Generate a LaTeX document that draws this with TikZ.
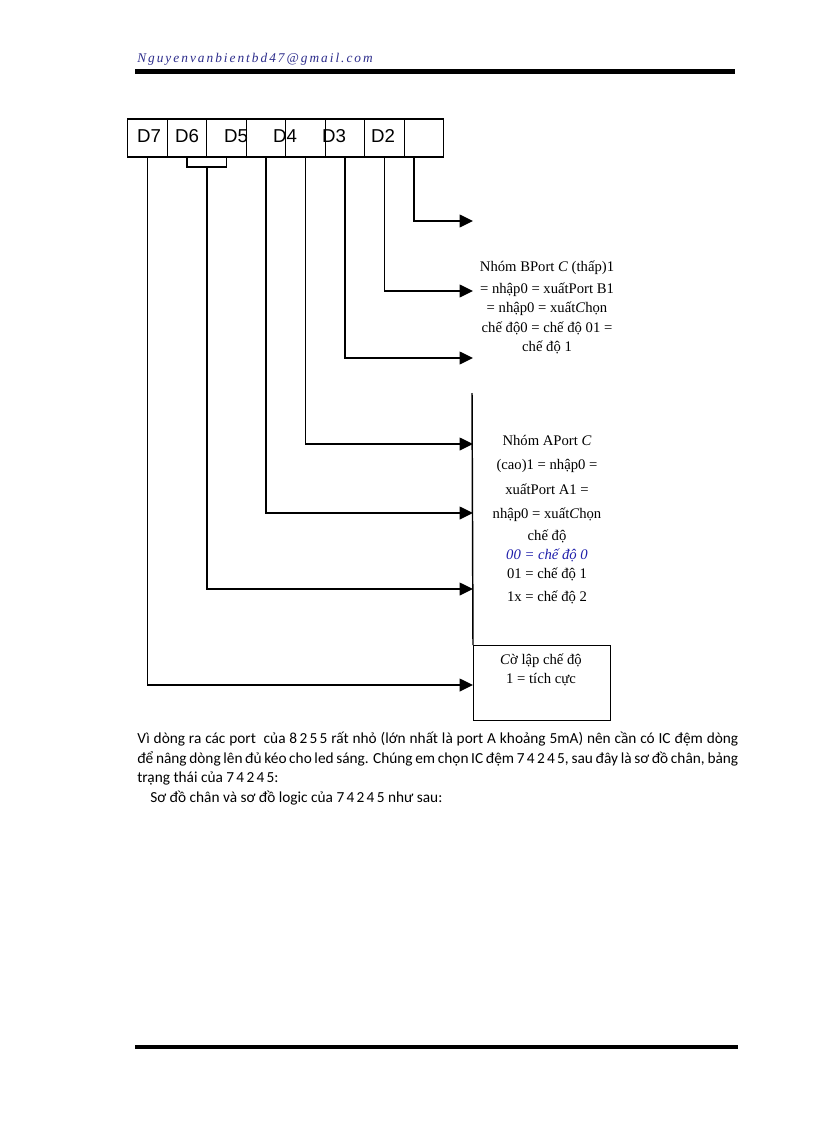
\documentclass[tikz,border=0pt]{standalone}
\usepackage{fontspec}
\setmainfont{Liberation Serif}
\newfontfamily\dfont{Liberation Sans}
\newfontfamily\pfont{Carlito}
\usetikzlibrary{arrows.meta}
\definecolor{hdrblue}{RGB}{45,45,140}
\definecolor{txtblue}{RGB}{30,30,170}
\newcommand\dsp[1]{{\addfontfeatures{LetterSpace=15}#1}}
\begin{document}
\begin{tikzpicture}[x=0.75pt,y=-0.75pt,
  cell/.style={draw,line width=1.1pt,minimum width=29.625pt,minimum height=28.5pt,inner sep=0pt},
  conn/.style={line width=1.1pt,-{Triangle[length=10pt,width=9.5pt]}},
  wire/.style={line width=1.1pt},
  dl/.style={font=\dfont\fontsize{14}{14}\selectfont,inner sep=0pt,anchor=base},
  tl/.style={font=\fontsize{11}{13}\selectfont,inner sep=0pt,anchor=base},
  pl/.style={font=\pfont\fontsize{11.5}{13}\selectfont,inner sep=0pt,anchor=base west},
  rulebar/.style={fill=black},
]
\useasboundingbox (0,0) rectangle (816,1123);
\fill[white] (0,0) rectangle (816,1123);

% header
\node[font=\itshape\fontsize{10}{12}\selectfont\addfontfeatures{LetterSpace=15},text=hdrblue,anchor=base west,inner sep=0pt] (hdr) at (137,63) {Nguyenvanbientbd47@gmail.com};
\fill[rulebar] (135,69) rectangle (735,74);
\fill[rulebar] (135,1045) rectangle (738,1049);

% register labels
\node[dl] (l7) at (149,143) {D7};
\node[dl] (l6) at (187,143) {D6};
\node[dl] (l5) at (236,143) {D5};
\node[dl] (l4) at (285,143) {D4};
\node[dl] (l3) at (334,143) {D3};
\node[dl] (l2) at (383,143) {D2};

% register cells
\node[cell] (c7) at (147.5,138) {};
\node[cell] (c6) at (187,138) {};
\node[cell] (c5) at (226.5,138) {};
\node[cell] (c4) at (266,138) {};
\node[cell] (c3) at (305.5,138) {};
\node[cell] (c2) at (345,138) {};
\node[cell] (c1) at (384.5,138) {};
\node[cell] (c0) at (424,138) {};

% targets
\coordinate (t0) at (473,221);
\coordinate (t1) at (473,291);
\coordinate (t2) at (473,358);
\coordinate (t3) at (473,444);
\coordinate (t4) at (473,513);
\coordinate (t5) at (473,589);
\coordinate (t7) at (473,685);
\coordinate (vtop) at (472,393);
\coordinate (br) at (207,167);

% flag box
\node[draw,line width=1.1pt,minimum width=102.75pt,minimum height=56.25pt,anchor=north west,inner sep=0pt] (flag) at (473,645) {};
\draw[wire] (vtop) -- (flag.north west);

% connectors
\draw[conn] ([xshift=-7.5pt]c0.south) |- (t0);
\draw[conn] (c1.south) |- (t1);
\draw[conn] (c2.south) |- (t2);
\draw[conn] (c3.south) |- (t3);
\draw[conn] (c4.south) |- (t4);
\draw[wire] (c6.south) |- (br) -| (c5.south);
\draw[conn] (br) |- (t5);
\draw[conn] (c7.south) |- (t7);

% group B text
\node[tl] (b1) at (547,272) {Nhóm BPort \textit{C} (thấp)1};
\node[tl] (b2) at (547,293) {= nhập0 = xuấtPort B1};
\node[tl] (b3) at (547,312) {= nhập0 = xuất\textit{C}họn};
\node[tl] (b4) at (547,332) {chế độ0 = chế độ 01 =};
\node[tl] (b5) at (547,351) {chế độ 1};

% group A text
\node[tl] (a1) at (547,445) {Nhóm APort \textit{C}};
\node[tl] (a2) at (547,469) {(cao)1 = nhập0 =};
\node[tl] (a3) at (547,494) {xuấtPort A1 =};
\node[tl] (a4) at (547,518) {nhập0 = xuất\textit{C}họn};
\node[tl] (a5) at (547,540) {chế độ};
\node[tl,text=txtblue,font=\itshape\fontsize{11}{13}\selectfont] (a6) at (547,559) {00 = chế độ 0};
\node[tl] (a7) at (547,578) {01 = chế độ 1};
\node[tl] (a8) at (547,601) {1x = chế độ 2};

% flag text
\node[tl] (f1) at (541,664) {\textit{C}ờ lập chế độ};
\node[tl] (f2) at (541,683) {1 = tích cực};

% paragraph
\node[pl] (p1) at (137,743) {\makebox[450.75pt][s]{Vì dòng ra các port \ của \dsp{8255} rất nhỏ (lớn nhất là port A khoảng 5mA) nên cần có IC đệm dòng}};
\node[pl] (p2) at (137,763) {\makebox[450.75pt][s]{để nâng dòng lên đủ kéo cho led sáng. Chúng em chọn IC đệm \dsp{74245}, sau đây là sơ đồ chân, bảng}};
\node[pl] (p3) at (137,782) {trạng thái của \dsp{74245}:};
\node[pl] (p4) at (150,802) {Sơ đồ chân và sơ đồ logic của \dsp{74245} như sau:};
\end{tikzpicture}
\end{document}
